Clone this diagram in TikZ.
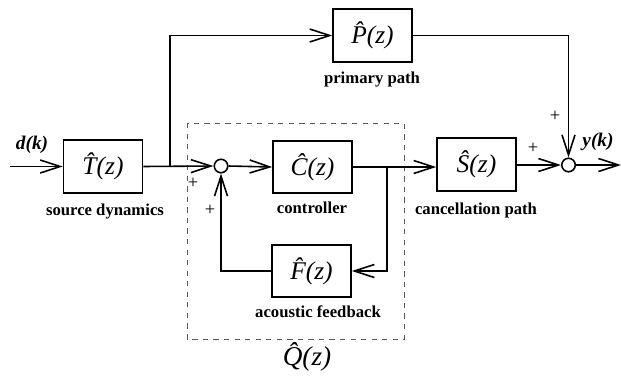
\documentclass[tikz,border=0pt]{standalone}
\usepackage{fontspec}
\setmainfont{Liberation Serif}
\usetikzlibrary{arrows.meta, positioning}

\newcommand{\hatlbl}[1]{\textit{\^{#1}(z)}}

\begin{document}
\begin{tikzpicture}[x=0.02cm, y=-0.02cm,
    block/.style={draw, line width=0.9pt, minimum width=1.58cm, minimum height=1.05cm, font=\fontsize{14.5}{16}\selectfont},
    sumnode/.style={draw, circle, line width=0.9pt, minimum size=0.27cm, inner sep=0pt},
    caption/.style={font=\fontsize{9.5}{11}\selectfont\bfseries},
    sig/.style={font=\fontsize{11}{13}\selectfont\bfseries\itshape},
    plus/.style={font=\fontsize{10.5}{12}\selectfont},
    wire/.style={line width=0.9pt},
    arr/.style={wire, -{Straight Barb[length=0.4cm, width=0.26cm, line width=0.9pt]}}]
    \useasboundingbox (0,0) rectangle (621,379);

    % Blocks
    \node[block] (T) at (103,166.5) {\hatlbl{T}};
    \node[block] (P) at (372.5,35.5) {\hatlbl{P}};
    \node[block] (C) at (312.5,167) {\hatlbl{C}};
    \node[block] (F) at (311.5,271) {\hatlbl{F}};
    \node[block] (S) at (476.5,164.5) {\hatlbl{S}};

    % Summing junctions
    \node[sumnode] (sum1) at (221,166) {};
    \node[sumnode] (sum2) at (568.5,165) {};

    % Block captions
    \node[caption] (Tcap) at (105,212) {source dynamics};
    \node[caption] (Pcap) at (372,80) {primary path};
    \node[caption] (Ccap) at (312,208) {controller};
    \node[caption] (Fcap) at (318,312) {acoustic feedback};
    \node[caption] (Scap) at (476,210) {cancellation path};

    % Q(z) frame
    \draw[dashed, gray!70!black, line width=0.5pt] (187,123) rectangle (404,339);
    \node[font=\fontsize{15.5}{17}\selectfont] (Q) at (307,357) {\hatlbl{Q}};

    % Signals and signs
    \node[sig] (din) at (32,145) {d(k)};
    \node[sig] (yout) at (598,142) {y(k)};
    \node[plus] (p1) at (193,183) {+};
    \node[plus] (p2) at (210,210) {+};
    \node[plus] (p3) at (533,148) {+};
    \node[plus] (p4) at (555,116) {+};

    \coordinate (in) at (10,166.5);
    \coordinate (out) at (621,165);
    \coordinate (br1) at (170,166.5);
    \coordinate (br2) at (387,167);

    % Connectors
    \draw[arr] (in) -- (T.west);
    \draw[arr] (T.east) -- (sum1.west);
    \draw[arr] (br1) |- (P.west);
    \draw[arr] (sum1.east) -- (C.west);
    \draw[arr] (C.east) -- (S.west |- C.east);
    \draw[arr] (br2) |- (F.east);
    \draw[arr] (F.west) -| (sum1.south);
    \draw[arr] (P.east) -| (sum2.north);
    \draw[arr] (S.east |- sum2.west) -- (sum2.west);
    \draw[arr] (sum2.east) -- (out);
\end{tikzpicture}
\end{document}
